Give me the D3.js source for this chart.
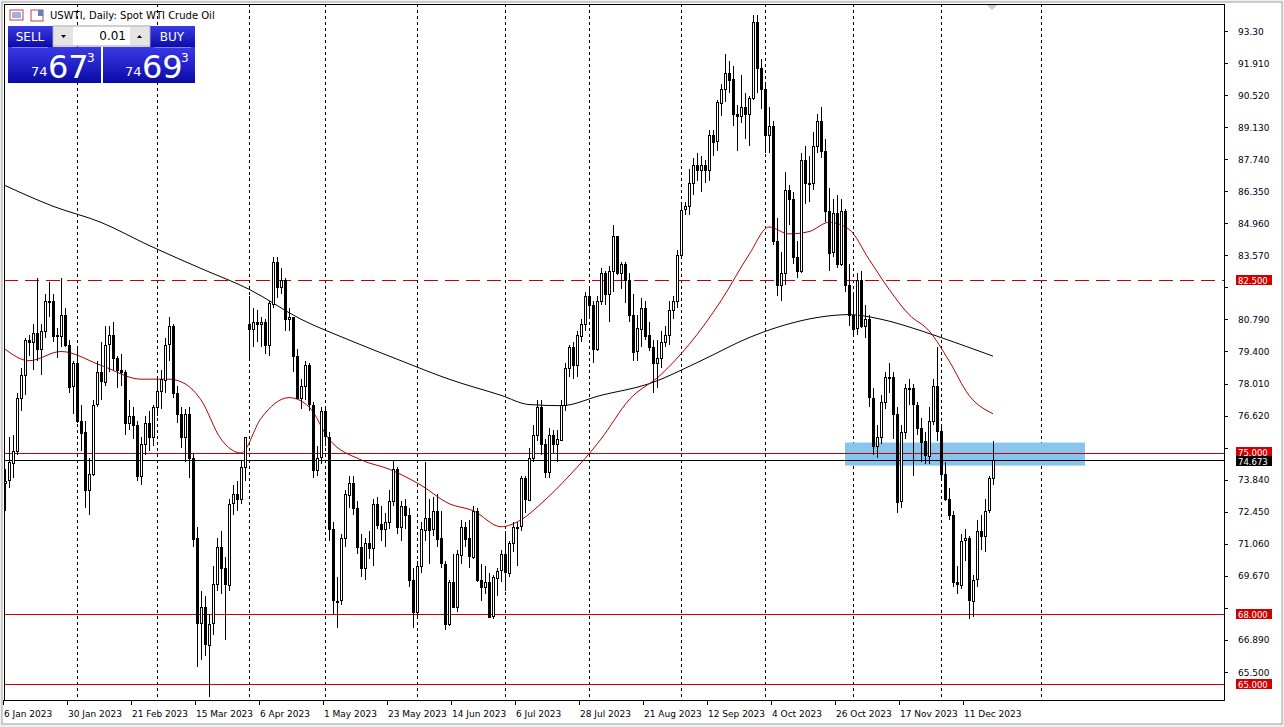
<!DOCTYPE html>
<html><head><meta charset="utf-8">
<script src="https://cdn.jsdelivr.net/npm/d3@7"></script>
<style>
body{margin:0;background:#fff;font-family:Tahoma,"DejaVu Sans",sans-serif;}
svg text{font-family:"DejaVu Sans",sans-serif;font-size:9px;}
</style></head>
<body><div id="chart"></div>
<script>
// daily candles, USWTI spot, Jan 6 .. Dec 20 2023 : [open, high, low, close]
const candles = [
[73.7,74.3,72.5,73.8],[73.8,75.7,73.5,74.6],[74.6,75.8,73.9,75.1],[75.1,77.6,74.9,77.4],[77.4,78.7,76.8,78.4],[78.4,80.0,77.5,79.9],
[79.9,80.1,79.2,79.8],[79.8,80.6,78.6,80.2],[80.2,82.6,79.0,79.5],[79.5,80.6,78.4,80.3],[80.3,81.9,80.0,81.6],
[81.6,82.4,80.9,81.6],[81.6,81.9,79.8,80.1],[80.1,80.4,79.1,80.1],[80.1,82.6,79.6,81.0],[81.0,81.3,79.6,79.7],
[79.7,79.9,77.6,77.9],[77.9,79.0,76.7,78.9],[78.9,79.5,76.3,76.4],[76.4,77.1,75.1,75.9],[75.9,76.4,72.6,73.4],
[73.4,74.8,72.3,74.1],[74.1,77.3,74.0,77.1],[77.1,79.0,77.0,78.5],[78.5,79.8,77.3,78.1],[78.1,80.5,77.9,79.7],
[79.7,80.5,78.5,80.1],[80.1,80.7,78.6,79.1],[79.1,79.2,77.8,78.6],[78.6,79.3,77.9,78.5],[78.5,78.6,75.8,76.3],
[76.3,77.3,76.0,76.6],[76.6,77.0,75.6,76.2],[76.2,76.4,73.8,74.0],[74.0,75.7,73.6,75.4],[75.4,76.6,74.9,76.3],
[76.3,76.8,75.1,75.7],[75.7,77.1,75.3,77.0],[77.0,78.2,76.6,77.7],[77.7,78.6,76.9,78.2],[78.2,80.0,77.6,79.7],
[79.7,80.9,79.0,80.5],[80.5,80.6,77.4,77.6],[77.6,77.9,76.3,76.7],[76.7,77.0,75.2,75.7],[75.7,76.9,74.6,76.7],
[76.7,77.0,73.9,74.8],[74.8,75.0,70.9,71.3],[71.3,71.8,65.7,67.6],[67.6,69.0,66.0,68.3],[68.3,68.8,66.2,66.7],
[66.7,68.0,64.4,67.6],[67.6,70.1,67.1,69.3],[69.3,71.3,69.0,70.9],[70.9,71.6,68.9,70.0],[70.0,70.5,66.9,69.3],
[69.3,73.0,69.0,72.8],[72.8,73.6,72.3,73.2],[73.2,73.8,72.5,73.0],[73.0,74.7,72.8,74.4],[74.4,75.7,73.8,75.7],
[80.6,81.8,79.0,80.4],[80.4,81.3,79.6,80.7],[80.7,81.2,79.8,80.6],[80.6,80.9,79.6,80.7],
[80.7,80.8,79.3,79.7],[79.7,81.6,79.2,81.5],[81.5,83.5,81.3,83.3],[83.3,83.5,81.7,82.2],[82.2,83.0,81.9,82.5],
[82.5,82.6,80.3,80.8],[80.8,81.3,80.3,80.9],[80.9,80.9,78.5,79.2],[79.2,79.5,77.4,77.4],[77.4,78.2,76.9,77.9],
[77.9,79.0,77.3,78.8],[78.8,78.9,76.8,77.1],[77.1,77.2,73.9,74.3],[74.3,75.3,74.0,74.8],[74.8,77.0,74.5,76.8],
[76.8,77.0,75.3,75.7],[75.7,75.9,71.2,71.7],[71.7,72.0,68.0,68.6],[68.6,69.6,67.4,68.6],[68.6,71.5,68.4,71.3],
[71.3,73.4,70.9,73.2],[73.2,74.0,72.6,73.7],[73.7,74.0,72.3,72.6],[72.6,72.9,70.6,70.9],[70.9,71.5,69.6,70.0],
[70.0,71.3,69.5,71.1],[71.1,71.6,70.4,70.9],[70.9,73.0,70.1,72.8],[72.8,73.1,71.7,71.9],[71.9,72.7,71.2,71.7],
[71.7,72.4,70.9,72.0],[72.0,73.4,71.7,72.9],[72.9,74.7,72.7,74.3],[74.3,74.4,71.5,71.8],[71.8,72.9,71.2,72.7],
[72.7,73.0,71.7,72.3],[72.3,72.6,69.2,69.5],[69.5,70.0,67.4,68.1],[68.1,70.3,67.8,70.1],[70.1,72.0,69.8,71.7],
[71.7,74.6,71.2,72.2],[72.2,73.0,70.2,71.7],[71.7,73.1,71.4,72.5],[72.5,73.2,70.9,71.3],[71.3,72.5,70.0,70.2],
[70.2,70.3,67.3,67.6],[67.6,69.5,67.5,69.4],[69.4,70.6,68.3,68.3],[68.3,70.8,68.1,70.6],[70.6,72.1,70.2,71.8],
[71.8,72.0,70.9,71.3],[71.3,72.1,70.0,70.5],[70.5,72.7,70.4,72.5],[72.5,72.6,69.4,69.5],[69.5,70.2,68.6,69.2],
[69.2,70.1,68.9,69.4],[69.4,69.8,67.9,67.9],[67.9,69.7,67.8,69.6],[69.6,70.0,68.8,69.9],[69.9,70.8,69.4,70.6],
[70.6,71.6,69.0,69.8],[69.8,71.2,69.6,71.1],[71.1,72.0,70.7,71.8],[71.8,72.0,70.1,71.8],[71.8,74.0,71.6,73.9],
[73.9,74.0,72.4,73.0],[73.0,75.2,72.9,74.8],[74.8,76.2,74.6,75.8],[75.8,77.3,75.5,77.0],[77.0,77.3,74.9,75.4],
[75.4,75.6,73.9,74.2],[74.2,76.1,73.9,75.8],[75.8,76.0,75.0,75.4],[75.4,76.0,74.6,75.6],[75.6,77.3,75.5,77.1],
[77.1,78.9,76.8,78.7],[78.7,79.7,78.3,79.6],[79.6,79.8,78.2,78.8],[78.8,80.3,78.3,80.1],[80.1,80.8,79.8,80.6],
[80.6,82.0,80.3,81.8],[81.8,82.1,80.9,81.4],[81.4,81.6,78.9,79.5],[79.5,81.8,79.4,81.6],[81.6,83.0,81.4,82.8],
[82.8,82.9,81.4,81.9],[81.9,83.1,80.7,82.9],[82.9,84.9,82.0,84.4],[84.4,84.4,82.7,82.8],[82.8,83.3,82.1,83.2],
[83.2,83.3,81.5,82.5],[82.5,82.8,80.7,81.0],[81.0,81.9,79.0,79.4],[79.4,81.0,79.0,80.4],[80.4,81.7,79.6,81.3],
[81.3,81.6,79.9,80.1],[80.1,80.7,79.4,79.6],[79.6,79.9,77.6,78.9],[78.9,79.9,77.8,79.1],[79.1,80.3,78.7,79.8],
[79.8,80.5,79.6,80.1],[80.1,81.6,79.7,81.2],[81.2,81.8,80.8,81.6],[81.6,83.8,81.3,83.6],[83.6,85.8,83.5,85.55],
[85.55,85.9,85.3,85.7],[85.7,87.3,85.3,86.7],[86.7,87.8,86.2,87.5],[87.5,88.0,86.8,87.3],[87.3,87.9,86.3,87.5],
[87.5,87.7,86.7,87.3],[87.3,89.0,86.8,88.8],[88.8,89.0,87.9,88.5],[88.5,90.3,88.1,90.2],[90.2,91.0,89.6,90.8],
[90.8,92.3,90.2,91.5],[91.5,92.0,90.6,91.2],[91.2,91.8,89.2,89.7],[89.7,90.1,88.1,89.6],[89.6,91.4,89.3,90.0],
[90.0,90.6,88.6,89.7],[89.7,90.5,88.3,90.4],[90.4,94.0,90.3,93.7],[93.7,94.0,90.6,91.7],[91.7,92.1,89.9,90.8],
[90.8,91.0,88.0,88.8],[88.8,90.0,88.0,89.2],[89.2,89.4,84.0,84.2],[84.2,85.2,81.8,82.3],[82.3,83.7,81.6,82.8],
[82.8,87.2,82.3,86.4],[86.4,86.6,84.9,86.0],[86.0,86.3,83.2,83.5],[83.5,84.2,82.6,82.9],[82.9,88.0,82.8,87.7],
[87.7,88.3,85.8,86.7],[86.7,87.9,85.9,86.7],[86.7,88.9,86.4,88.3],[88.3,89.7,88.0,89.4],[89.4,90.0,87.8,88.1],
[88.1,88.6,85.0,85.5],[85.5,86.5,82.9,83.7],[83.7,86.0,83.5,85.4],[85.4,86.2,83.0,83.2],[83.2,86.0,83.1,85.5],
[85.5,85.6,82.0,82.3],[82.3,83.2,80.5,81.0],[81.0,82.0,80.1,80.4],[80.4,82.8,80.1,82.5],[82.5,82.9,80.4,80.5],
[80.5,81.4,80.0,80.8],[80.8,81.0,77.0,77.4],[77.4,77.8,74.9,75.3],[75.3,76.2,74.8,75.7],[75.7,77.5,75.4,77.2],
[77.2,78.5,76.9,78.3],[78.3,78.9,77.6,78.3],[78.3,78.5,75.6,76.7],[76.7,77.0,72.4,72.9],[72.9,76.2,72.6,75.9],
[75.9,78.0,75.6,77.8],[77.8,78.2,77.1,77.8],[77.8,78.0,74.0,77.1],[77.1,77.2,75.8,76.1],[76.1,76.5,74.6,75.5],
[75.5,75.9,74.5,74.9],[74.9,77.0,74.5,76.4],[76.4,78.2,76.2,77.9],[77.9,79.6,75.5,75.96],[75.96,76.2,73.8,74.1],
[74.1,74.6,72.9,73.0],[73.0,73.5,72.1,72.3],[72.3,72.5,69.2,69.4],[69.4,70.1,68.9,69.3],[69.3,71.5,69.1,71.2],
[71.2,71.7,70.3,71.3],[71.3,71.4,67.8,68.6],[68.6,69.7,67.9,69.5],[69.5,72.1,69.2,71.6],[71.6,72.3,70.8,71.4],
[71.4,73.0,70.7,72.5],[72.5,74.0,72.4,73.9],[73.9,75.5,73.6,74.673]
];
// moving averages: [bar index, value]
const ma200 = [[0,86.6],[12,85.7],[24,85.0],[36,84.0],[49,83.0],[61,82.1],[74,80.8],[86,79.9],[99,79.0],[111,78.2],[124,77.5],[131,77.1],[139,77.05],[149,77.5],[161,78.0],[174,79.0],[186,80.0],[194,80.5],[204,80.9],[211,81.0],[219,80.8],[229,80.3],[239,79.7],[247,79.2]];
const ma20 = [[0,79.5],[6,79.0],[14,79.4],[24,78.8],[34,78.2],[41,78.2],[45,78.0],[49,77.3],[54,75.6],[59,75.0],[64,76.5],[71,77.4],[76,77.0],[81,75.6],[89,74.7],[96,74.3],[104,73.6],[111,72.8],[117,72.5],[124,71.8],[129,72.1],[134,72.8],[141,74.0],[149,75.6],[156,77.3],[164,78.4],[171,79.7],[179,81.6],[186,83.6],[191,84.8],[196,84.5],[201,84.6],[206,85.0],[211,84.7],[216,83.4],[221,82.1],[226,81.0],[231,80.3],[236,79.0],[241,77.5],[247,76.7]];
const yTicks = [93.30,91.910,90.520,89.130,87.740,86.350,84.960,83.570,82.180,80.790,79.400,78.010,76.620,75.230,73.840,72.450,71.060,69.670,68.280,66.890,65.500];
const levels = [{v:82.5,dash:true},{v:75.0},{v:68.0},{v:65.0}];
const lastPrice = 74.673;
const zone = {from:210, to:270, lo:74.45, hi:75.45};
const monthStarts = [18,38,61,80,103,125,146,169,190,212,234,259];
const labelStep = 16;

// trading days: weekdays from 6 Jan, Good Friday closed
const dates = [];
for (let d = new Date(2023,0,6); dates.length < candles.length; d.setDate(d.getDate()+1)) {
  const wd = d.getDay();
  if (wd === 0 || wd === 6) continue;
  if (d.getMonth() === 3 && d.getDate() === 7) continue;
  dates.push(new Date(d));
}

const W = 1284, H = 727;
const L = 4, R = 1224, T = 4, B = 700;
const svg = d3.select('#chart').append('svg').attr('width', W).attr('height', H);
svg.append('rect').attr('width', W).attr('height', H).attr('fill', '#f0f0f0');
svg.append('rect').attr('x', 2).attr('y', 2).attr('width', W-4).attr('height', H-5).attr('fill', '#fff')
  .attr('stroke', '#a0a0a0');

const x = d3.scaleLinear().domain([0, 1]).range([5, 9]);
const y = d3.scaleLinear().domain([65.5, 93.3]).range([672, 31]);

const plot = svg.append('g');
plot.append('clipPath').attr('id', 'clip').append('rect').attr('x', L).attr('y', T).attr('width', R-L).attr('height', B-T);
const g = plot.append('g').attr('clip-path', 'url(#clip)');

// month separators
g.selectAll('.sep').data(monthStarts).enter().append('line')
  .attr('x1', d => x(d)+0.5).attr('x2', d => x(d)+0.5).attr('y1', T).attr('y2', B)
  .attr('stroke', '#000').attr('stroke-dasharray', '3,3');

// support/resistance zone
g.append('rect').attr('x', x(zone.from)).attr('width', x(zone.to)-x(zone.from))
  .attr('y', y(zone.hi)).attr('height', y(zone.lo)-y(zone.hi)).attr('fill', '#87c5ee');

// horizontal levels
g.selectAll('.lvl').data(levels).enter().append('line')
  .attr('x1', L).attr('x2', R).attr('y1', d => Math.round(y(d.v))+0.5).attr('y2', d => Math.round(y(d.v))+0.5)
  .attr('stroke', '#c80000').attr('stroke-width', 1)
  .attr('stroke-dasharray', d => d.dash ? '14,7' : null);
g.append('line').attr('x1', L).attr('x2', R).attr('y1', Math.round(y(lastPrice))+0.5).attr('y2', Math.round(y(lastPrice))+0.5)
  .attr('stroke', '#000');

// moving averages
const line = d3.line().x(d => x(d[0])).y(d => y(d[1])).curve(d3.curveMonotoneX);
g.append('path').attr('d', line(ma200)).attr('fill', 'none').attr('stroke', '#000').attr('stroke-width', 1);
g.append('path').attr('d', line(ma20)).attr('fill', 'none').attr('stroke', '#b40000').attr('stroke-width', 1);

// candles
const c = g.selectAll('.c').data(candles).enter().append('g');
c.append('line').attr('x1', (d,i) => Math.round(x(i))+0.5).attr('x2', (d,i) => Math.round(x(i))+0.5)
  .attr('y1', d => Math.round(y(d[1]))).attr('y2', d => Math.round(y(d[2]))).attr('stroke', '#000');
c.append('rect').attr('x', (d,i) => Math.round(x(i))-0.5)
  .attr('y', d => Math.round(y(Math.max(d[0], d[3])))+0.5)
  .attr('width', 2).attr('height', d => Math.max(1, Math.round(Math.abs(y(d[0]) - y(d[3])))))
  .attr('fill', d => d[3] >= d[0] ? '#fff' : '#000').attr('stroke', '#000').attr('stroke-width', 1);

// frame
svg.append('rect').attr('x', L+0.5).attr('y', T+0.5).attr('width', R-L).attr('height', B-T)
  .attr('fill', 'none').attr('stroke', '#000');

// price axis; labels hidden under the level badges
const badges = levels.map(l => ({v: l.v, bg: '#d00000', dy: l.v === 75 ? -1 : 0}))
  .concat([{v: lastPrice, bg: '#000', dy: 1}]);
const ya = svg.append('g');
ya.selectAll('line').data(yTicks).enter().append('line')
  .attr('x1', R).attr('x2', R+4).attr('y1', d => Math.round(y(d))+0.5).attr('y2', d => Math.round(y(d))+0.5).attr('stroke', '#000');
ya.selectAll('text').data(yTicks.filter(t => !badges.some(b => Math.abs(y(b.v) - y(t)) < 8))).enter().append('text')
  .attr('x', R+14).attr('y', d => y(d)+3.5).text(d => d === 93.3 ? '93.30' : d.toFixed(3));
const bg = svg.append('g').selectAll('g').data(badges).enter().append('g')
  .attr('transform', d => `translate(${R+12},${Math.round(y(d.v))-5+d.dy})`);
bg.append('rect').attr('width', 36).attr('height', 10).attr('fill', d => d.bg);
bg.append('text').attr('x', 2).attr('y', 8.5).attr('fill', '#fff').style('font-size', '8.5px').text(d => d.v.toFixed(3));

// time axis
const fmt = d3.timeFormat('%-d %b %Y');
const xt = d3.range(0, candles.length, labelStep);
const xa = svg.append('g');
xa.selectAll('line').data(xt).enter().append('line')
  .attr('x1', d => x(d)-1.5).attr('x2', d => x(d)-1.5).attr('y1', B).attr('y2', B+5).attr('stroke', '#000');
xa.selectAll('text').data(xt).enter().append('text')
  .attr('x', d => x(d)-1).attr('y', B+17).text(d => fmt(dates[d]));

// header
svg.append('text').attr('x', 50).attr('y', 19).style('font-size', '10px').text('USWTI, Daily:  Spot WTI Crude Oil');
const ic = svg.append('g');
ic.append('rect').attr('x', 10).attr('y', 10).attr('width', 13).attr('height', 10).attr('fill', '#fff').attr('stroke', '#c04040');
ic.append('path').attr('d', 'M12,13H21M12,15H21M12,17H21').attr('stroke', '#4060c0');
ic.append('rect').attr('x', 31).attr('y', 10).attr('width', 12).attr('height', 11).attr('fill', '#fff').attr('stroke', '#c04040');
ic.append('rect').attr('x', 38).attr('y', 10).attr('width', 5).attr('height', 6).attr('fill', '#6080c0');

// trade panel
const defs = svg.append('defs');
const grad = defs.append('linearGradient').attr('id', 'bl').attr('x1', 0).attr('x2', 0).attr('y1', 0).attr('y2', 1);
grad.append('stop').attr('offset', '0%').attr('stop-color', '#3a3ae6');
grad.append('stop').attr('offset', '100%').attr('stop-color', '#0a0aa8');
const tp = svg.append('g');
tp.append('rect').attr('x', 8).attr('y', 26).attr('width', 45).attr('height', 22).attr('fill', 'url(#bl)');
tp.append('rect').attr('x', 150).attr('y', 26).attr('width', 45).attr('height', 22).attr('fill', 'url(#bl)');
tp.append('rect').attr('x', 8).attr('y', 47).attr('width', 93).attr('height', 36).attr('fill', 'url(#bl)');
tp.append('rect').attr('x', 103).attr('y', 47).attr('width', 92).attr('height', 36).attr('fill', 'url(#bl)');
tp.append('rect').attr('x', 53).attr('y', 26).attr('width', 97).attr('height', 20).attr('fill', '#fff').attr('stroke', '#a0a0a0');
tp.append('rect').attr('x', 54).attr('y', 27).attr('width', 19).attr('height', 18).attr('fill', '#e4e4e4');
tp.append('rect').attr('x', 130).attr('y', 27).attr('width', 19).attr('height', 18).attr('fill', '#e4e4e4');
tp.append('path').attr('d', 'M61,35h5l-2.5,3z').attr('fill', '#000');
tp.append('path').attr('d', 'M137,38h5l-2.5,-3z').attr('fill', '#000');
tp.append('text').attr('x', 126).attr('y', 40).attr('text-anchor', 'end').style('font-size', '12px').text('0.01');
tp.append('text').attr('x', 30).attr('y', 41).attr('text-anchor', 'middle').attr('fill', '#fff').style('font-size', '12px').text('SELL');
tp.append('text').attr('x', 172).attr('y', 41).attr('text-anchor', 'middle').attr('fill', '#fff').style('font-size', '12px').text('BUY');
tp.append('line').attr('x1', 12).attr('x2', 48).attr('y1', 47.5).attr('y2', 47.5).attr('stroke', '#8080ff');
tp.append('line').attr('x1', 155).attr('x2', 191).attr('y1', 47.5).attr('y2', 47.5).attr('stroke', '#8080ff');
[[31, '74', '67', '3'], [125, '74', '69', '3']].forEach(([px, a, b, s]) => {
  tp.append('text').attr('x', px).attr('y', 76).attr('fill', '#fff').style('font-size', '13px').text(a);
  tp.append('text').attr('x', px+17).attr('y', 78).attr('fill', '#fff').style('font-size', '32px').text(b);
  tp.append('text').attr('x', px+56).attr('y', 62).attr('fill', '#fff').style('font-size', '12px').text(s);
});

// small marker at the top
svg.append('path').attr('d', 'M987,5h10l-5,5z').attr('fill', '#c8c8c8');
</script>
</body></html>
